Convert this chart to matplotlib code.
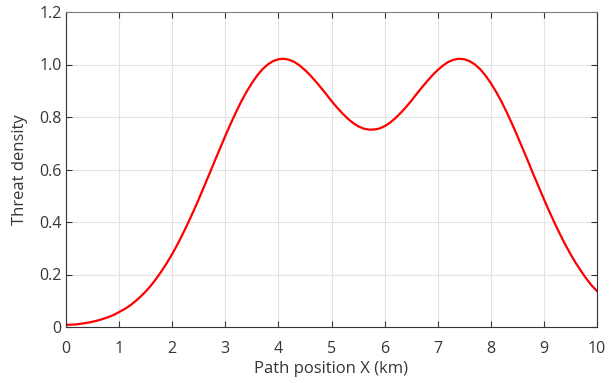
import numpy as np
import matplotlib
matplotlib.use('Agg')
import matplotlib.pyplot as plt

# threat density, every 0.1 km
pos_km = np.arange(0, 10.001, 0.1)
density = [0.008, 0.009, 0.010, 0.013, 0.016, 0.020, 0.025, 0.031, 0.038, 0.046,
           0.057, 0.068, 0.081, 0.097, 0.115, 0.135, 0.158, 0.184, 0.213, 0.244,
           0.278, 0.315, 0.355, 0.397, 0.441, 0.487, 0.535, 0.583, 0.632, 0.680,
           0.728, 0.774, 0.818, 0.859, 0.896, 0.929, 0.958, 0.982, 1.000, 1.013,
           1.020, 1.022, 1.018, 1.010, 0.996, 0.979, 0.959, 0.936, 0.912, 0.887,
           0.861, 0.837, 0.815, 0.795, 0.778, 0.765, 0.756, 0.752, 0.752, 0.756,
           0.765, 0.778, 0.795, 0.815, 0.837, 0.861, 0.887, 0.912, 0.936, 0.959,
           0.979, 0.996, 1.010, 1.018, 1.022, 1.020, 1.013, 1.000, 0.982, 0.958,
           0.929, 0.896, 0.859, 0.818, 0.774, 0.728, 0.680, 0.632, 0.582, 0.535,
           0.487, 0.441, 0.397, 0.355, 0.315, 0.278, 0.244, 0.213, 0.184, 0.158,
           0.137]

xticks = list(range(0, 11))
yticks = [0, 0.2, 0.4, 0.6, 0.8, 1.0, 1.2]
ylabels = ['0', '0.2', '0.4', '0.6', '0.8', '1.0', '1.2']

plt.rcParams['font.family'] = ['Open Sans', 'DejaVu Sans']
txt = '#363636'

fig = plt.figure(figsize=(6.1, 3.83), dpi=100)
ax = fig.add_axes([66/610, 56/383, 531/610, 315/383])

ax.plot(pos_km, density, color='#ff0000', lw=1.6)

ax.set_xlim(0, 10)
ax.set_ylim(0, 1.2)
ax.set_xticks(xticks)
ax.set_yticks(yticks)
ax.set_yticklabels(ylabels)
ax.grid(True, color='#e3e3e3', lw=0.8)
ax.set_axisbelow(True)
ax.tick_params(direction='in', length=4, width=0.8, colors=txt, labelsize=11.5,
               top=True, right=True)
ax.tick_params(axis='x', pad=10)
ax.tick_params(axis='y', pad=3)
for s in ax.spines.values():
    s.set_color(txt)
    s.set_linewidth(0.8)
ax.spines['top'].set_color('#808080')
ax.set_xlabel('Path position X (km)', fontsize=12, color=txt, labelpad=3)
ax.set_ylabel('Threat density', fontsize=12, color=txt, labelpad=8)

fig.savefig('out.png', dpi=100)
